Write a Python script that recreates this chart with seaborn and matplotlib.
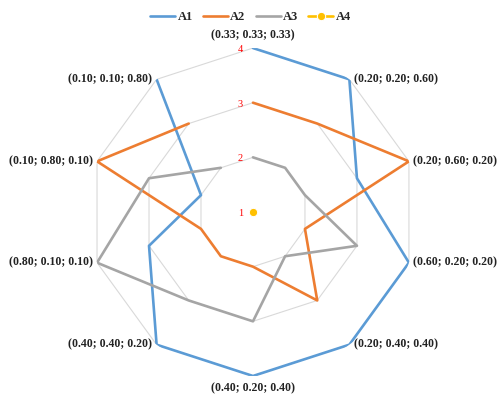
import numpy as np
import pandas as pd
import seaborn as sns
import matplotlib.pyplot as plt

# categories clockwise from the top
categories = ["(0.33; 0.33; 0.33)", "(0.20; 0.20; 0.60)", "(0.20; 0.60; 0.20)",
              "(0.60; 0.20; 0.20)", "(0.20; 0.40; 0.40)", "(0.40; 0.20; 0.40)",
              "(0.40; 0.40; 0.20)", "(0.80; 0.10; 0.10)", "(0.10; 0.80; 0.10)",
              "(0.10; 0.10; 0.80)"]
a1 = [4, 4, 3, 4, 4, 4, 4, 3, 2, 4]
a2 = [3, 3, 4, 2, 3, 2, 2, 2, 4, 3]
a3 = [2, 2, 2, 3, 2, 3, 3, 4, 3, 2]
a4 = [1, 1, 1, 1, 1, 1, 1, 1, 1, 1]
series_names = ["A1", "A2", "A3", "A4"]
colors = ["#5B9BD5", "#ED7D31", "#A5A5A5", "#FFC000"]
levels = [1, 2, 3, 4]

sns.set_style("white")
plt.rcParams['font.family'] = ['Liberation Serif', 'DejaVu Serif']

n = len(categories)
angles = np.linspace(0, 2 * np.pi, n, endpoint=False)
theta = np.append(angles, angles[0])

fig = plt.figure(figsize=(5.01, 3.98), dpi=100)
ax = fig.add_axes([0.1776, 0.0553, 0.6547, 0.824], projection="polar")
ax.set_theta_zero_location("N")
ax.set_theta_direction(-1)

# polygon grid
for lv in levels[1:]:
    ax.plot(theta, [lv] * (n + 1), color="#D9D9D9", lw=0.8, zorder=1)

for name, vals, col in zip(series_names, [a1, a2, a3, a4], colors):
    df = pd.DataFrame({"theta": theta, "value": vals + vals[:1]})
    kw = dict(marker="o", markersize=6) if name == "A4" else {}
    sns.lineplot(data=df, x="theta", y="value", sort=False, color=col,
                 lw=1.9, label=name, ax=ax, zorder=3, **kw)

ax.set_ylim(1, 4)
ax.grid(False)
ax.spines["polar"].set_visible(False)
ax.set_xticks([])
ax.set_yticks([])
ax.set_xlabel("")
ax.set_ylabel("")

for lv in levels:
    ax.annotate(str(lv), (0, lv), xytext=(-9, -1), textcoords="offset points",
                ha="center", va="center", color="red", fontsize=7.5)

for ang, lab in zip(angles, categories):
    s = np.sin(ang)
    c = np.cos(ang)
    if abs(s) < 0.01:
        ha = "center"
    elif s > 0:
        ha = "left"
    else:
        ha = "right"
    off = (3 * np.sign(s) if abs(s) > 0.01 else 0, 9 * c if abs(s) < 0.01 else 0)
    ax.annotate(lab, (ang, 4), xytext=off, textcoords="offset points",
                ha=ha, va="center", fontsize=8.5, fontweight="bold", color="#222222")

h, l = ax.get_legend_handles_labels()
ax.legend_.remove()
fig.legend(h, l, loc="upper center", bbox_to_anchor=(0.5, 1.0), ncol=4,
           frameon=False, prop={"size": 9, "weight": "bold"}, handlelength=2.0,
           columnspacing=0.8, handletextpad=0.2)

fig.savefig("out.png", dpi=100)
